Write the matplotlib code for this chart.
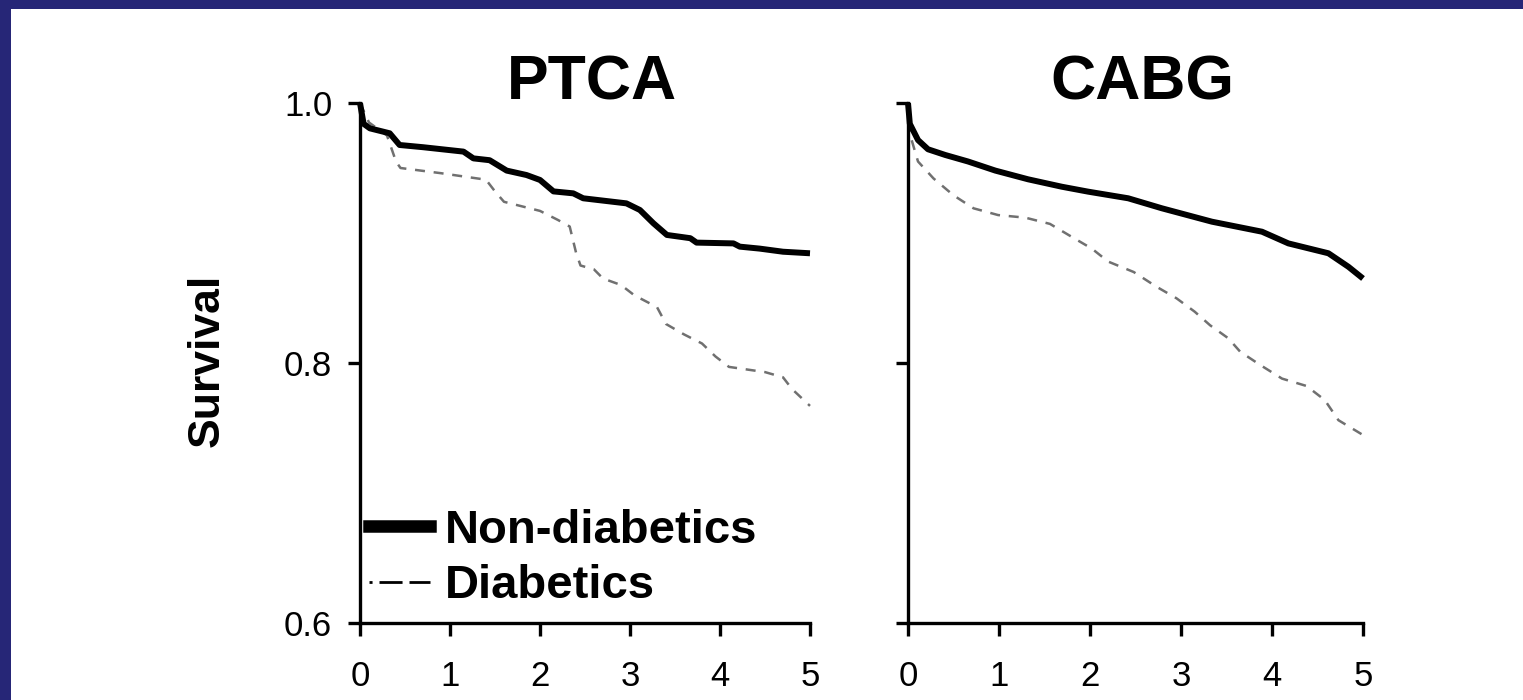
import matplotlib
matplotlib.use('Agg')
import matplotlib.pyplot as plt
from matplotlib.lines import Line2D
from matplotlib.patches import Rectangle

plt.rcParams['font.family'] = ['Liberation Sans', 'DejaVu Sans']

# ── data (years, survival) ─────────────────────────────────────────────
panels = ['PTCA', 'CABG']
series_labels = ['Non-diabetics', 'Diabetics']
x_ticks = [0, 1, 2, 3, 4, 5]
y_ticks = [0.6, 0.8, 1.0]
y_tick_labels = ['0.6', '0.8', '1.0']

ptca_nondiab_t = [0, 0.04, 0.11, 0.33, 0.44, 0.70, 1.15, 1.26, 1.44, 1.63, 1.85,
                  2.0, 2.15, 2.37, 2.48, 2.96, 3.11, 3.26, 3.41, 3.67, 3.74,
                  4.15, 4.22, 4.44, 4.70, 5.0]
ptca_nondiab_s = [1.0, 0.984, 0.9805, 0.9767, 0.9677, 0.966, 0.9626, 0.9574, 0.956,
                  0.948, 0.9446, 0.9408, 0.932, 0.9305, 0.9267, 0.9228, 0.9177,
                  0.9075, 0.8985, 0.896, 0.8926, 0.892, 0.8895, 0.888, 0.8856, 0.8844]

ptca_diab_t = [0, 0.1, 0.3, 0.4, 0.45, 0.9, 1.4, 1.5, 1.6, 2.0, 2.2, 2.33, 2.4,
               2.45, 2.6, 2.7, 2.9, 3.05, 3.3, 3.4, 3.6, 3.8, 3.95, 4.1, 4.5,
               4.7, 4.8, 5.0]
ptca_diab_s = [1.0, 0.985, 0.975, 0.955, 0.950, 0.946, 0.941, 0.932, 0.924, 0.917,
               0.910, 0.905, 0.885, 0.875, 0.872, 0.865, 0.860, 0.852, 0.843,
               0.830, 0.822, 0.815, 0.805, 0.797, 0.793, 0.789, 0.780, 0.767]

cabg_nondiab_t = [0, 0.02, 0.11, 0.22, 0.41, 0.66, 0.96, 1.32, 1.69, 1.98, 2.42,
                  2.79, 3.34, 3.89, 4.18, 4.62, 4.84, 5.0]
cabg_nondiab_s = [1.0, 0.984, 0.9715, 0.9644, 0.960, 0.955, 0.948, 0.9413, 0.9356,
                  0.9318, 0.9267, 0.919, 0.9087, 0.901, 0.892, 0.8844, 0.874, 0.865]

cabg_diab_t = [0, 0.04, 0.11, 0.28, 0.50, 0.72, 0.99, 1.29, 1.56, 1.80, 2.02,
               2.20, 2.48, 2.73, 2.95, 3.15, 3.32, 3.52, 3.65, 3.87, 4.11,
               4.38, 4.58, 4.73, 5.0]
cabg_diab_s = [1.0, 0.9715, 0.955, 0.942, 0.929, 0.919, 0.9138, 0.9118, 0.907,
               0.897, 0.888, 0.878, 0.870, 0.8587, 0.8498, 0.8395, 0.829, 0.819,
               0.8087, 0.7985, 0.788, 0.7823, 0.7715, 0.756, 0.7446]

curves = {
    'PTCA': [(ptca_nondiab_t, ptca_nondiab_s), (ptca_diab_t, ptca_diab_s)],
    'CABG': [(cabg_nondiab_t, cabg_nondiab_s), (cabg_diab_t, cabg_diab_s)],
}

# ── figure ─────────────────────────────────────────────────────────────
W, H = 1523, 700
fig = plt.figure(figsize=(W / 100, H / 100), dpi=100)
fig.patch.set_facecolor('#262677')
fig.add_artist(Rectangle((11 / W, 0), 1, (H - 9) / H, transform=fig.transFigure,
                         facecolor='white', edgecolor='none', zorder=-5))

solid_style = dict(color='black', lw=4.3, solid_joinstyle='round', solid_capstyle='butt')
dash_style = dict(color='#707070', lw=1.8, linestyle=(0, (4, 3.5)))

bottom = (H - 623) / H
height = 520 / H
axes_pos = {'PTCA': (360 / W, bottom, 450 / W, height),
            'CABG': (908 / W, bottom, 455 / W, height)}

for name in panels:
    ax = fig.add_axes(axes_pos[name])
    (t1, s1), (t2, s2) = curves[name]
    ax.plot(t2, s2, clip_on=False, **dash_style)
    ax.plot(t1, s1, clip_on=False, **solid_style)

    ax.set_xlim(0, 5)
    ax.set_ylim(0.6, 1.0)
    ax.set_xticks(x_ticks)
    ax.set_yticks(y_ticks)
    ax.set_xticklabels([str(v) for v in x_ticks], fontsize=25)
    ax.spines['top'].set_visible(False)
    ax.spines['right'].set_visible(False)
    for sp in ('left', 'bottom'):
        ax.spines[sp].set_linewidth(2.4)
    ax.tick_params(direction='out', length=9, width=2.4, colors='black')
    ax.tick_params(axis='x', pad=18)
    ax.tick_params(axis='y', pad=11)
    if name == 'PTCA':
        ax.set_yticklabels(y_tick_labels, fontsize=25)
        handles = [Line2D([], [], color='black', lw=9),
                   Line2D([], [], color='black', lw=2,
                          linestyle=(0, (1.1, 2.5, 8.3, 2.5, 8.3, 2.5)))]
        ax.legend(handles, series_labels, loc='lower left',
                  bbox_to_anchor=(0.02, 0.028), frameon=False, borderpad=0,
                  borderaxespad=0, handlelength=1.3, handletextpad=0.3,
                  labelspacing=0.25, prop=dict(size=34, weight='bold'))
    else:
        ax.tick_params(axis='y', labelleft=False)

    cx = (axes_pos[name][0] + axes_pos[name][2] / 2)
    fig.text(cx + 7 / W, (H - 100) / H, name, ha='center', va='baseline',
             fontsize=45, fontweight='bold')

fig.text(207 / W, 1 - 360 / H, 'Survival', rotation=90, ha='center', va='center',
         fontsize=32, fontweight='bold')

fig.savefig('out.png', dpi=100, facecolor=fig.get_facecolor())
